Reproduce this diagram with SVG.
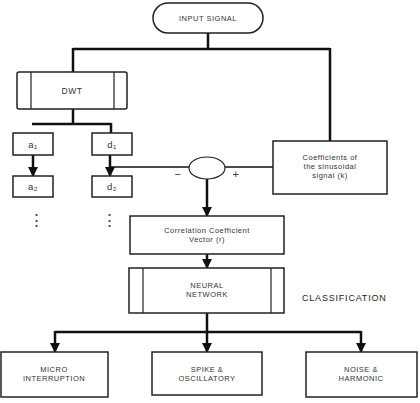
<svg xmlns="http://www.w3.org/2000/svg" width="420" height="403" viewBox="0 0 420 403">
<defs>
<style>
.box{fill:#fff;stroke:#222;stroke-width:1.5}
.thin{fill:none;stroke:#222;stroke-width:1.2}
.c{fill:none;stroke:#111;stroke-width:2.5}
.l{fill:none;stroke:#111;stroke-width:1.6}
text{font-family:"Liberation Sans",Arial,sans-serif;font-size:7.5px;fill:#333;text-anchor:middle;letter-spacing:0.5px}
.lab{font-size:9.5px}
.big{font-size:9px;fill:#222;letter-spacing:0.8px;text-anchor:start}
.dots{font-size:17px;fill:#444}
</style>
<marker id="ah" viewBox="0 0 10 10" refX="9" refY="5" markerWidth="4" markerHeight="4" orient="auto" markerUnits="strokeWidth">
<path d="M0,0 L10,5 L0,10 z" fill="#111"/>
</marker>
</defs>
<rect width="420" height="403" fill="#fff"/>
<g id="connectors">
<path class="c" d="M208,33 V49 M73,49 H330 M73,48 V72 M330,48 V141"/>
<path class="c" d="M73,109 V124 M32,124 H111 M111,123 V133"/>
<path class="c" d="M33,155 V176" marker-end="url(#ah)"/>
<path class="c" d="M110,155 V176" marker-end="url(#ah)"/>
<path class="l" d="M110,167 H189 M225,167 H273"/>
<path class="c" d="M207,179 V216" marker-end="url(#ah)"/>
<path class="c" d="M207,254 V268" marker-end="url(#ah)"/>
<path class="c" d="M207,313 V352" marker-end="url(#ah)"/>
<path class="c" d="M55,332 H361"/>
<path class="c" d="M55,331 V352" marker-end="url(#ah)"/>
<path class="c" d="M361,331 V352" marker-end="url(#ah)"/>
<text x="178" y="178" style="font-size:11px">−</text>
<text x="236" y="178" style="font-size:11px">+</text>
</g>
<g id="input">
<rect class="box" x="153" y="3" width="110" height="30" rx="15"/>
<text x="208" y="21">INPUT SIGNAL</text>
</g>
<g id="dwt">
<rect class="box" x="17" y="72" width="110" height="37" rx="2"/>
<path class="thin" d="M31,72 V109 M114,72 V109"/>
<text x="72" y="94" style="font-size:8.5px">DWT</text>
</g>
<g id="a1"><rect class="box" x="13" y="133" width="40" height="22"/><text class="lab" x="33" y="148">a₁</text></g>
<g id="d1"><rect class="box" x="92" y="133" width="40" height="22"/><text class="lab" x="112" y="148">d₁</text></g>
<g id="a2"><rect class="box" x="13" y="176" width="40" height="21"/><text class="lab" x="33" y="190">a₂</text></g>
<g id="d2"><rect class="box" x="92" y="176" width="40" height="21"/><text class="lab" x="112" y="190">d₂</text></g>
<g id="dots1"><text class="dots" x="37" y="226">⋮</text></g>
<g id="dots2"><text class="dots" x="110" y="226">⋮</text></g>
<g id="sum"><ellipse class="thin" cx="207" cy="168" rx="18" ry="11"/></g>
<g id="coeff">
<rect class="box" x="273" y="141" width="114" height="53"/>
<text x="330" y="160">Coefficients of</text>
<text x="330" y="169">the sinusoidal</text>
<text x="330" y="178">signal (k)</text>
</g>
<g id="vector">
<rect class="box" x="130" y="216" width="154" height="38"/>
<text x="207" y="233">Correlation Coefficient</text>
<text x="207" y="242">Vector (r)</text>
</g>
<g id="nn">
<rect class="box" x="129" y="268" width="155" height="45"/>
<path class="thin" d="M143,268 V313 M271,268 V313"/>
<text x="207" y="288">NEURAL</text>
<text x="207" y="297">NETWORK</text>
</g>
<text class="big" x="302" y="301">CLASSIFICATION</text>
<g id="micro">
<rect class="box" x="1" y="352" width="107" height="45"/>
<text x="54" y="372">MICRO</text>
<text x="54" y="381">INTERRUPTION</text>
</g>
<g id="spike">
<rect class="box" x="152" y="352" width="110" height="43"/>
<text x="207" y="372">SPIKE &amp;</text>
<text x="207" y="381">OSCILLATORY</text>
</g>
<g id="noise">
<rect class="box" x="306" y="352" width="111" height="45"/>
<text x="361" y="372">NOISE &amp;</text>
<text x="361" y="381">HARMONIC</text>
</g>
</svg>
